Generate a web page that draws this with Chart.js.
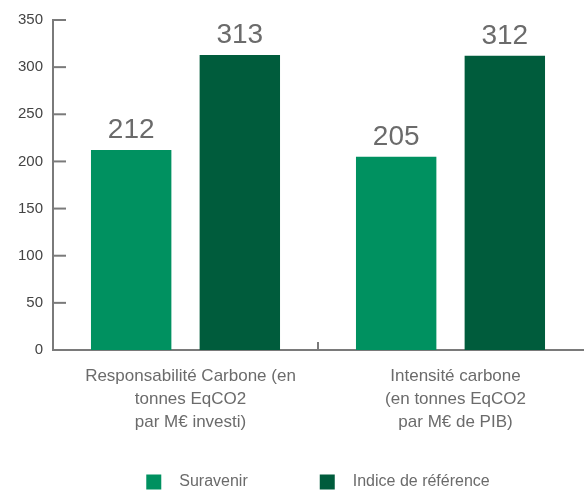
<!DOCTYPE html>
<html>
<head>
<meta charset="utf-8">
<script src="https://cdn.jsdelivr.net/npm/chart.js@4"></script>
<style>
  html, body { margin: 0; padding: 0; background: #fff; }
  #wrap { width: 585px; height: 490px; }
</style>
</head>
<body>
<div id="wrap"><canvas id="chart"></canvas></div>
<script>
const categories = [
  ['Responsabilité Carbone (en', 'tonnes EqCO2', 'par M€ investi)'],
  ['Intensité carbone', '(en tonnes EqCO2', 'par M€ de PIB)']
];
const suravenir = [212, 205];
const indice = [313, 312];
const yTicks = [0, 50, 100, 150, 200, 250, 300, 350];

const FONT = "'Liberation Sans', Arial, sans-serif";
const AXIS = '#7a7a7a';
const TEXT = '#6b6b6b';

// short tick marks pointing into the plot, plus the category divider
const axisMarks = {
  id: 'axisMarks',
  afterDraw(chart) {
    const { ctx, chartArea, scales } = chart;
    ctx.save();
    ctx.strokeStyle = AXIS;
    ctx.lineWidth = 2;
    yTicks.forEach(v => {
      const y = scales.y.getPixelForValue(v);
      ctx.beginPath();
      ctx.moveTo(chartArea.left, y);
      ctx.lineTo(chartArea.left + 13, y);
      ctx.stroke();
    });
    const mid = (scales.x.getPixelForValue(0) + scales.x.getPixelForValue(1)) / 2;
    ctx.beginPath();
    ctx.moveTo(mid, chartArea.bottom);
    ctx.lineTo(mid, chartArea.bottom - 8);
    ctx.stroke();
    ctx.restore();
  }
};

// value printed above each bar
const barValues = {
  id: 'barValues',
  afterDatasetsDraw(chart) {
    const { ctx } = chart;
    ctx.save();
    ctx.font = '28px ' + FONT;
    ctx.fillStyle = TEXT;
    ctx.textAlign = 'center';
    ctx.textBaseline = 'alphabetic';
    chart.data.datasets.forEach((ds, i) => {
      chart.getDatasetMeta(i).data.forEach((bar, j) => {
        ctx.fillText(String(ds.data[j]), bar.x, bar.y - 12);
      });
    });
    ctx.restore();
  }
};

// legend row centred under the plot area, wider spacing than the built-in one
const bottomLegend = {
  id: 'bottomLegend',
  afterDraw(chart) {
    const { ctx, chartArea } = chart;
    const box = 15, gap = 18, spacing = 72;
    ctx.save();
    ctx.font = '16px ' + FONT;
    ctx.textBaseline = 'middle';
    const items = chart.data.datasets.map(ds => ({
      text: ds.label,
      color: ds.backgroundColor,
      w: box + gap + ctx.measureText(ds.label).width
    }));
    const total = items.reduce((s, it) => s + it.w, 0) + spacing * (items.length - 1);
    let x = (chartArea.left + chartArea.right) / 2 - total / 2;
    const y = chart.height - 8;
    items.forEach(it => {
      ctx.fillStyle = it.color;
      ctx.fillRect(x, y - box / 2, box, box);
      ctx.fillStyle = TEXT;
      ctx.fillText(it.text, x + box + gap, y);
      x += it.w + spacing;
    });
    ctx.restore();
  }
};

new Chart(document.getElementById('chart'), {
  type: 'bar',
  data: {
    labels: categories,
    datasets: [
      { label: 'Suravenir', data: suravenir, backgroundColor: '#009160' },
      { label: 'Indice de référence', data: indice, backgroundColor: '#005c3c' }
    ]
  },
  options: {
    responsive: true,
    maintainAspectRatio: false,
    animation: false,
    categoryPercentage: 0.82,
    barPercentage: 0.74,
    layout: { padding: { top: 20, right: 2, left: 0, bottom: 45 } },
    plugins: {
      tooltip: { enabled: false },
      legend: { display: false }
    },
    scales: {
      x: {
        grid: { display: false },
        border: { color: AXIS, width: 2 },
        ticks: {
          color: TEXT,
          padding: 7,
          labelOffset: 5,
          font: { family: FONT, size: 17, lineHeight: 1.35 }
        },
        afterFit(scale) { scale.height = 95; }
      },
      y: {
        min: 0,
        max: 350,
        grid: { display: false, drawTicks: false },
        border: { color: AXIS, width: 2 },
        ticks: {
          stepSize: 50,
          padding: 10,
          color: '#444',
          font: { family: FONT, size: 15 }
        },
        afterFit(scale) { scale.width = 53; }
      }
    }
  },
  plugins: [axisMarks, barValues, bottomLegend]
});
</script>
</body>
</html>
